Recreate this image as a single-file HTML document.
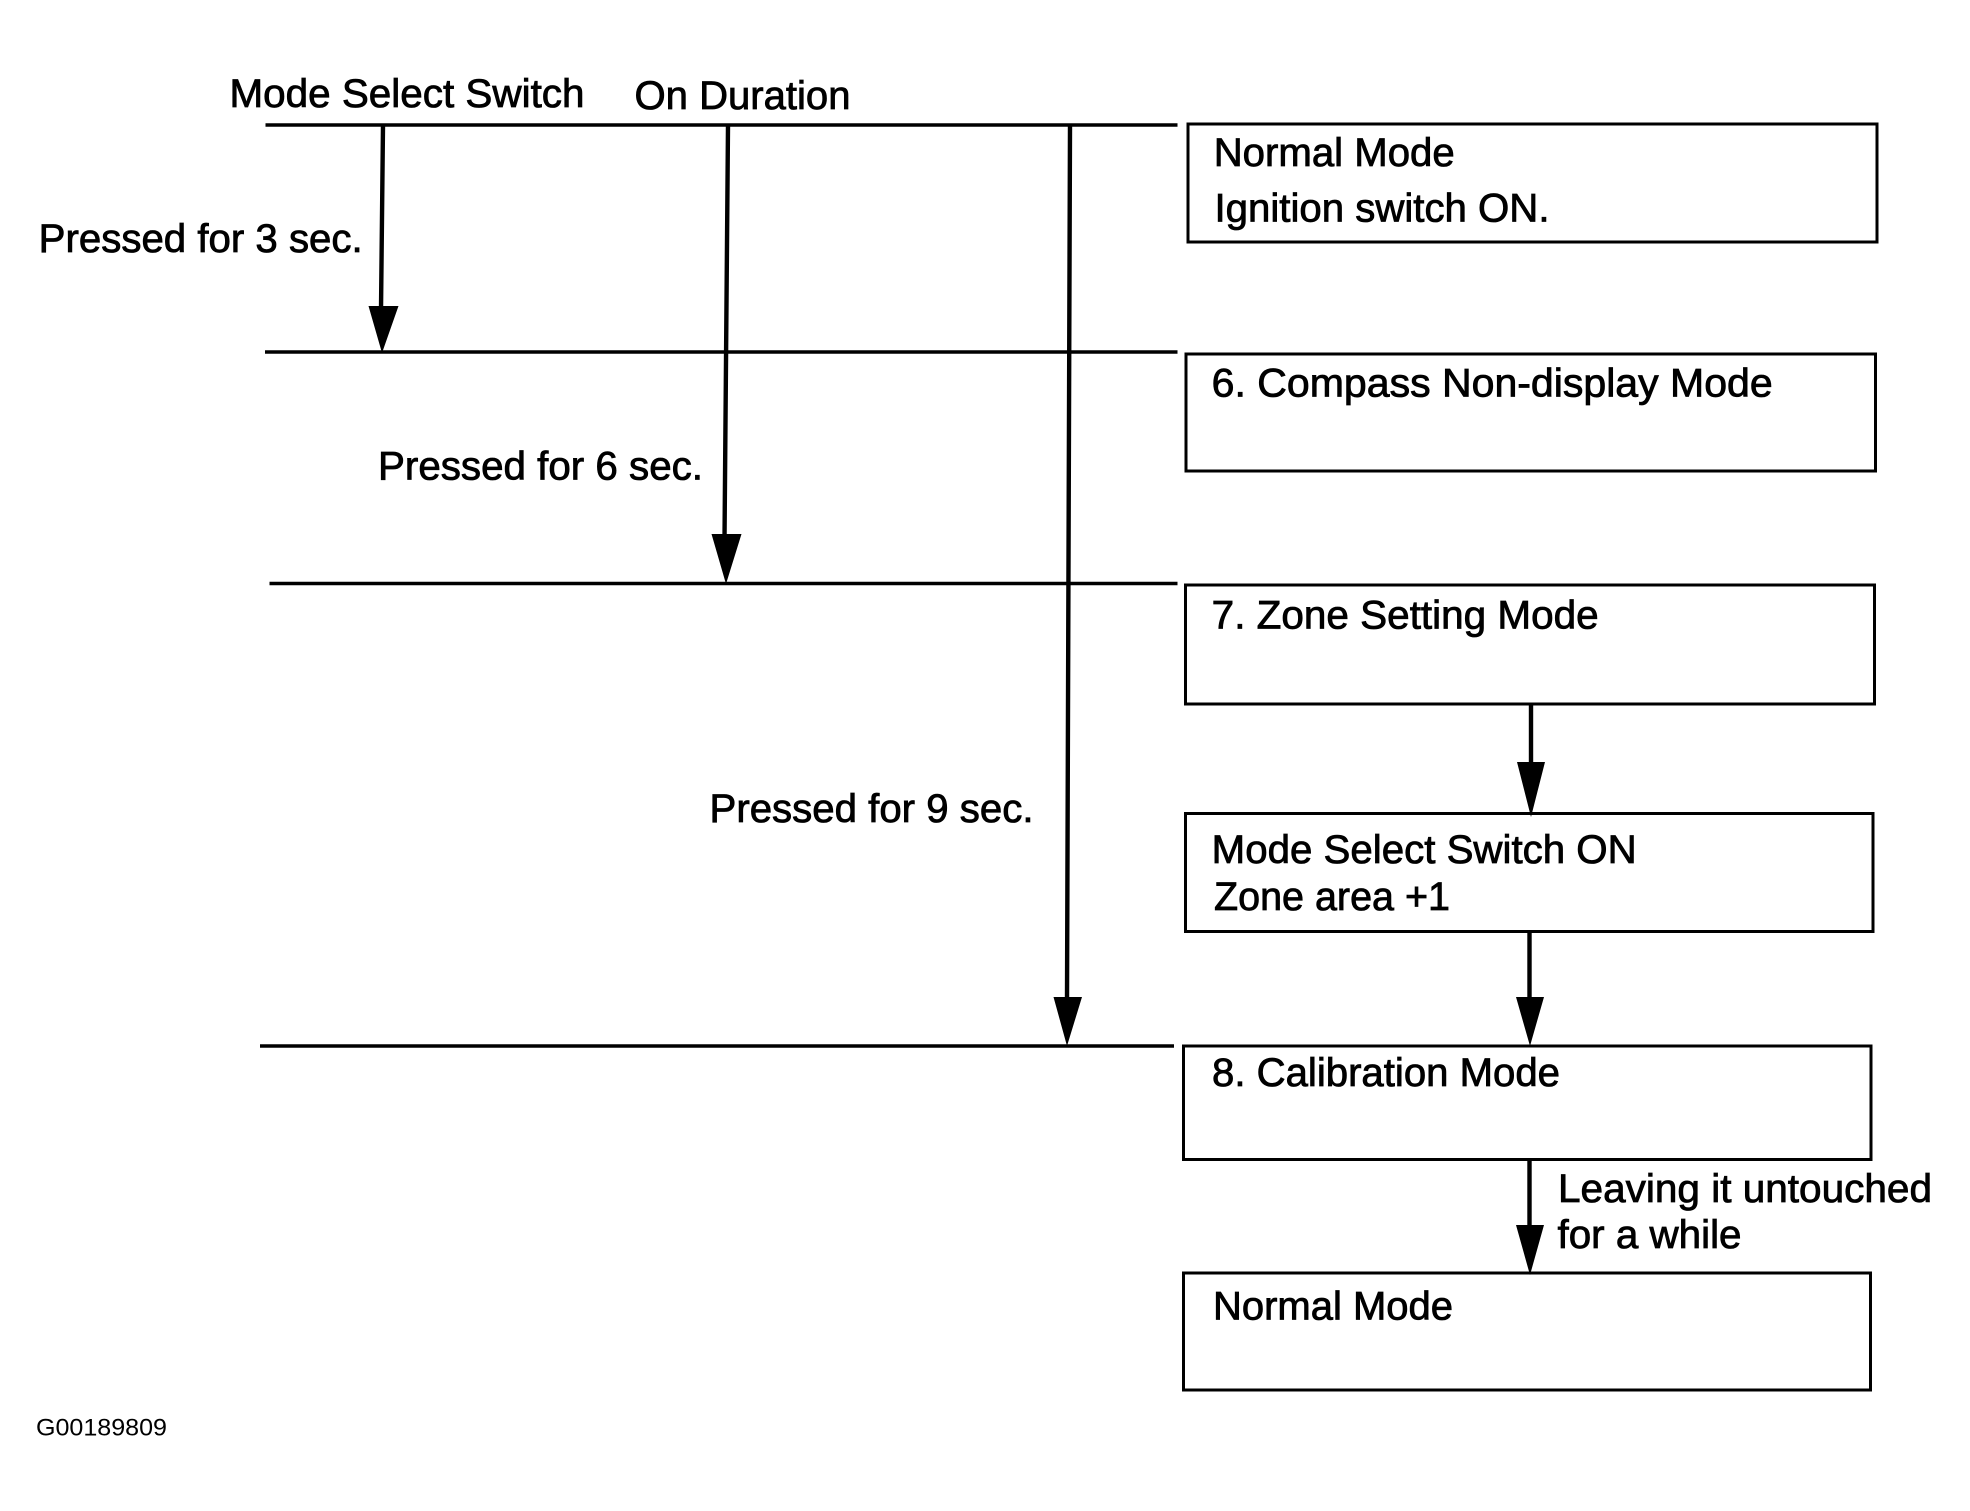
<!DOCTYPE html>
<html><head><meta charset="utf-8"><style>
html,body{margin:0;padding:0;background:#fff}
svg{display:block}
text{font-family:"Liberation Sans",sans-serif;font-size:40px;fill:#000;stroke:#000;stroke-width:.8;}
.l{stroke:#000;fill:none;stroke-width:3.4}
.v{stroke:#000;fill:none;stroke-width:4.4}
.b{stroke:#000;fill:#fff;stroke-width:3}
.a{fill:#000}
</style></head><body>
<svg width="1970" height="1511" viewBox="0 0 1970 1511" xmlns="http://www.w3.org/2000/svg">
<rect width="1970" height="1511" fill="#fff"/>
<rect class="b" x="1188" y="124" width="689" height="118"/>
<rect class="b" x="1186" y="354" width="689.5" height="117"/>
<rect class="b" x="1185.5" y="585" width="689" height="119"/>
<rect class="b" x="1185.5" y="813.5" width="687.5" height="118"/>
<rect class="b" x="1183.5" y="1046" width="687.5" height="113.5"/>
<rect class="b" x="1183.5" y="1273" width="687" height="117"/>
<path class="l" d="M265.500 125H1177.500M265 352H1177.500M269.500 583.500H1177.500M260 1046H1174"/>
<path class="v" d="M383 125L381 310M728 125L724.500 540M1070 125L1067 1000M1531 704V765M1529.500 932V1000M1529.500 1160V1228"/>
<path class="a" d="M368.500 306H398.500L382 353ZM711.500 534H741.500L726 584ZM1053.500 997H1082L1067 1046ZM1517 762H1545L1531 817ZM1516 997H1544L1530 1046ZM1516 1225H1544L1530 1275Z"/>
<text x="229.500" y="107" textLength="355" lengthAdjust="spacingAndGlyphs">Mode Select Switch</text>
<text x="634.500" y="109" textLength="216" lengthAdjust="spacingAndGlyphs">On Duration</text>
<text x="38.700" y="252" textLength="324" lengthAdjust="spacingAndGlyphs">Pressed for 3 sec.</text>
<text x="378" y="479.500" textLength="325" lengthAdjust="spacingAndGlyphs">Pressed for 6 sec.</text>
<text x="709.500" y="822" textLength="324" lengthAdjust="spacingAndGlyphs">Pressed for 9 sec.</text>
<text x="1213.700" y="166" textLength="241" lengthAdjust="spacingAndGlyphs">Normal Mode</text>
<text x="1214.500" y="221.500" textLength="335" lengthAdjust="spacingAndGlyphs">Ignition switch ON.</text>
<text x="1211.700" y="396.500" textLength="561" lengthAdjust="spacingAndGlyphs">6. Compass Non-display Mode</text>
<text x="1211.700" y="628.500" textLength="387" lengthAdjust="spacingAndGlyphs">7. Zone Setting Mode</text>
<text x="1211.700" y="863" textLength="425" lengthAdjust="spacingAndGlyphs">Mode Select Switch ON</text>
<text x="1214" y="910" textLength="236" lengthAdjust="spacingAndGlyphs">Zone area +1</text>
<text x="1212" y="1086" textLength="348" lengthAdjust="spacingAndGlyphs">8. Calibration Mode</text>
<text x="1558" y="1202" textLength="374" lengthAdjust="spacingAndGlyphs">Leaving it untouched</text>
<text x="1557.500" y="1248" textLength="184" lengthAdjust="spacingAndGlyphs">for a while</text>
<text x="1213" y="1319.500" textLength="240" lengthAdjust="spacingAndGlyphs">Normal Mode</text>
<text x="36" y="1435.500" textLength="131" lengthAdjust="spacingAndGlyphs" style="font-size:24px;stroke-width:0">G00189809</text>
</svg>
</body></html>
